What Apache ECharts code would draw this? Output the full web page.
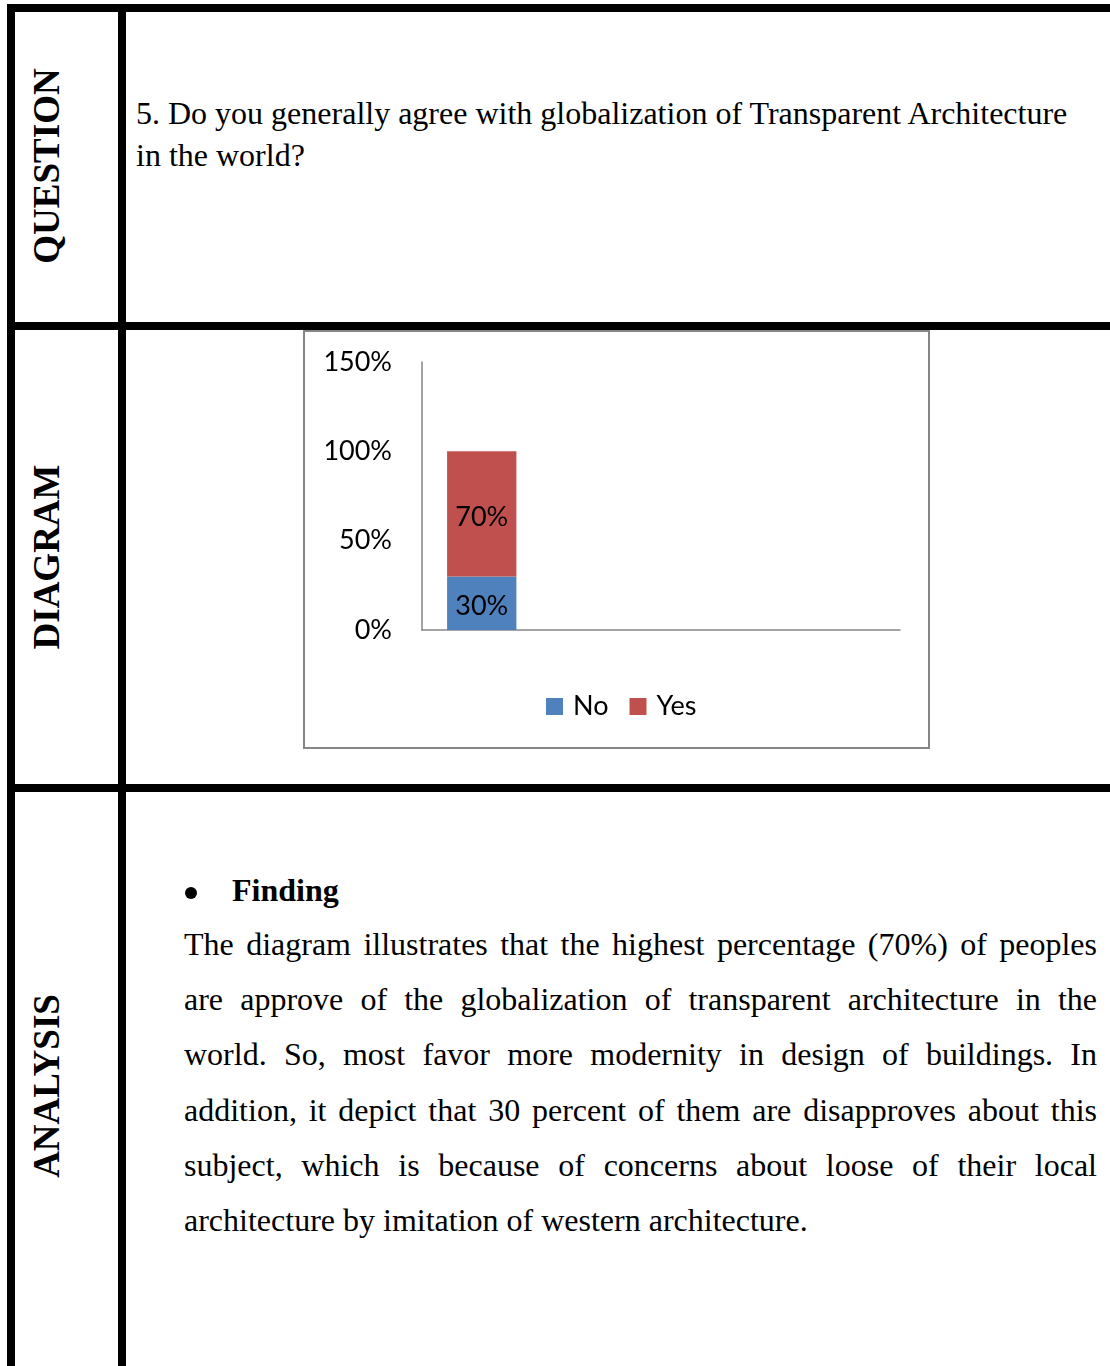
<!DOCTYPE html>
<html>
<head>
<meta charset="utf-8">
<title>Question 5 – Globalization of Transparent Architecture</title>
<script src="https://cdn.jsdelivr.net/npm/echarts@6/dist/echarts.min.js"></script>
<style>
  html, body { margin: 0; padding: 0; background: #fff; }
  body { width: 1110px; height: 1366px; position: relative; overflow: hidden;
         font-family: "Liberation Serif", "Times New Roman", serif; color: #000; }
  .rule { position: absolute; background: #000; }
  .side { position: absolute; font-weight: bold; font-size: 37px; line-height: 37px;
          white-space: nowrap; transform: translate(-50%, -50%) rotate(-90deg); }
  .q { position: absolute; left: 136px; font-size: 32px; line-height: 42px; white-space: nowrap; }
  .para { position: absolute; left: 184px; width: 913px; font-size: 32px; line-height: 55.2px; }
  .para div { text-align: justify; text-align-last: justify; white-space: nowrap; }
  .para div.last { text-align-last: left; }
  .bullet { position: absolute; left: 185px; top: 887px; width: 12px; height: 12px;
            border-radius: 50%; background: #000; }
  #chart { position: absolute; left: 303px; top: 330px; width: 627px; height: 419px; }
</style>
</head>
<body>
  <!-- table frame -->
  <div class="rule" style="left:7px; top:4px; width:1103px; height:8px;"></div>
  <div class="rule" style="left:7px; top:322px; width:1103px; height:8px;"></div>
  <div class="rule" style="left:7px; top:784px; width:1103px; height:8px;"></div>
  <div class="rule" style="left:7px; top:4px; width:8px; height:1362px;"></div>
  <div class="rule" style="left:118px; top:4px; width:8px; height:1362px;"></div>

  <!-- row headings -->
  <div class="side" style="left:46px; top:166px;">QUESTION</div>
  <div class="side" style="left:46px; top:557px;">DIAGRAM</div>
  <div class="side" style="left:46px; top:1086px;">ANALYSIS</div>

  <!-- question -->
  <div class="q" style="top:92px;">5. Do you generally agree with globalization of Transparent Architecture<br>in the world?</div>

  <!-- analysis -->
  <div class="bullet"></div>
  <div style="position:absolute; left:232px; top:863px; font-size:32px; line-height:55.2px; font-weight:bold; white-space:nowrap;">Finding</div>
  <div class="para" style="top:917px;">
    <div>The diagram illustrates that the highest percentage (70%) of peoples</div>
    <div>are approve of the globalization of transparent architecture in the</div>
    <div>world. So, most favor more modernity in design of buildings. In</div>
    <div>addition, it depict that 30 percent of them are disapproves about this</div>
    <div>subject, which is because of concerns about loose of their local</div>
    <div class="last">architecture by imitation of western architecture.</div>
  </div>

  <div id="chart"></div>

<script>
// Survey answers for question 5 (share of respondents)
const categories = ['Q5', '', '', ''];
const noShare = [0.30, null, null, null];
const yesShare = [0.70, null, null, null];
const seriesNames = ['No', 'Yes'];
const yTicks = { min: 0, max: 1.5, interval: 0.5 };

const pct = v => Math.round(v * 100) + '%';
const chartFont = 'Lato, "Open Sans", sans-serif';
const axisGrey = '#868686';

const barLabel = {
  show: true,
  position: 'inside',
  offset: [0, 3],
  formatter: p => pct(p.value),
  fontFamily: chartFont,
  fontSize: 27,
  color: '#000'
};

const chart = echarts.init(document.getElementById('chart'), null, { renderer: 'canvas' });
chart.setOption({
  animation: false,
  backgroundColor: '#fff',
  textStyle: { fontFamily: chartFont },
  graphic: [{
    type: 'rect',
    shape: { x: 1, y: 1, width: 625, height: 417 },
    style: { fill: 'none', stroke: axisGrey, lineWidth: 2 },
    silent: true
  }],
  grid: { left: 119, right: 30, top: 32, bottom: 119 },
  legend: {
    data: seriesNames,
    left: 238,
    top: 358,
    icon: 'rect',
    itemWidth: 17,
    itemHeight: 17,
    itemGap: 21,
    textStyle: { fontFamily: chartFont, fontSize: 27, color: '#000', padding: [0, 0, 0, 5] }
  },
  xAxis: {
    type: 'category',
    data: categories,
    axisLine: { show: true, lineStyle: { color: axisGrey, width: 1.5 } },
    axisTick: { show: false },
    axisLabel: { show: false },
    splitLine: { show: false }
  },
  yAxis: {
    type: 'value',
    min: yTicks.min,
    max: yTicks.max,
    interval: yTicks.interval,
    axisLine: { show: true, lineStyle: { color: axisGrey, width: 1.5 } },
    axisTick: { show: false },
    splitLine: { show: false },
    axisLabel: {
      formatter: pct,
      margin: 30,
      fontFamily: chartFont,
      fontSize: 27,
      color: '#000'
    }
  },
  series: [
    {
      name: seriesNames[0],
      type: 'bar',
      stack: 'answers',
      data: noShare,
      barCategoryGap: '42%',
      itemStyle: { color: '#4F81BD' },
      label: barLabel
    },
    {
      name: seriesNames[1],
      type: 'bar',
      stack: 'answers',
      data: yesShare,
      barCategoryGap: '42%',
      itemStyle: { color: '#C0504D' },
      label: barLabel
    }
  ]
});
</script>
</body>
</html>
